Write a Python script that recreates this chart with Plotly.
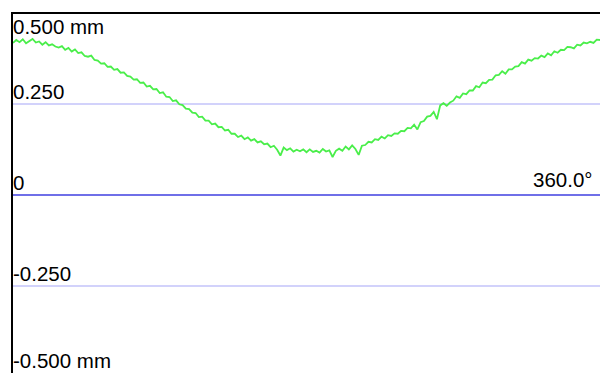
import plotly.graph_objects as go

# Sample angles (degrees), every 2 degrees from 0 to 360
angles = list(range(0, 361, 2))

deviation = [
    0.418, 0.426, 0.420, 0.428, 0.417, 0.424,
    0.429, 0.419, 0.422, 0.413, 0.420, 0.411, 0.414, 0.408, 0.405,
    0.409, 0.399, 0.404, 0.394, 0.400, 0.390, 0.392, 0.382, 0.380, 0.383,
    0.371, 0.369, 0.361, 0.362, 0.352, 0.353, 0.344, 0.346, 0.336, 0.337,
    0.327, 0.325, 0.317, 0.318, 0.308, 0.309, 0.298, 0.300, 0.290, 0.291,
    0.280, 0.282, 0.270, 0.269, 0.258, 0.260, 0.249, 0.247, 0.237, 0.236,
    0.226, 0.225, 0.214, 0.215, 0.204, 0.204, 0.194, 0.196, 0.186, 0.187,
    0.177, 0.179, 0.168, 0.168, 0.159, 0.163, 0.153, 0.158, 0.149, 0.153,
    0.144, 0.147, 0.139, 0.141, 0.131, 0.135, 0.124, 0.108, 0.130, 0.123,
    0.128, 0.119, 0.124, 0.120, 0.125, 0.117, 0.125, 0.118, 0.121, 0.116,
    0.126, 0.119, 0.122, 0.104, 0.121, 0.127, 0.121, 0.133, 0.125, 0.136,
    0.126, 0.110, 0.135, 0.137, 0.146, 0.144, 0.153, 0.151, 0.160, 0.155,
    0.164, 0.162, 0.169, 0.168, 0.176, 0.175, 0.184, 0.183, 0.193, 0.180,
    0.200, 0.203, 0.215, 0.217, 0.228, 0.208, 0.246, 0.252, 0.245, 0.254,
    0.259, 0.271, 0.267, 0.279, 0.277, 0.287, 0.287, 0.299, 0.296, 0.309,
    0.307, 0.316, 0.317, 0.329, 0.330, 0.340, 0.333, 0.345, 0.345, 0.353,
    0.354, 0.365, 0.361, 0.372, 0.369, 0.376, 0.375, 0.383, 0.379, 0.389,
    0.384, 0.395, 0.391, 0.399, 0.398, 0.407, 0.406, 0.403, 0.413, 0.411,
    0.419, 0.417, 0.421, 0.418, 0.427, 0.426,
]

# Label texts along the left edge
label_texts = ["0.500 mm", "0.250", "0", "-0.250"]
bottom_label = "-0.500 mm"
end_angle_label = "360.0°"

fig = go.Figure()
fig.add_trace(go.Scatter(
    x=angles, y=deviation, mode="lines",
    line=dict(color="#4aee4a", width=1.8),
    hoverinfo="skip", showlegend=False,
))

font = dict(family="Liberation Sans, Arial, sans-serif", size=20.5, color="#000000")

# anchor value of each label's box bottom (top label sits just below the border)
label_anchor_y = [0.4287, 0.25, 0.0, -0.25]
for v, t in zip(label_anchor_y, label_texts):
    fig.add_annotation(x=0, y=v, xref="x", yref="y", text=t, showarrow=False,
                       xanchor="left", yanchor="bottom", xshift=-1, yshift=0,
                       font=font, borderpad=0)

# bottom label sits at the bottom edge of the plot
fig.add_annotation(x=0, y=0, xref="x", yref="paper", text=bottom_label,
                   showarrow=False, xanchor="left", yanchor="bottom",
                   xshift=-1, yshift=0, font=font, borderpad=0)

fig.add_annotation(x=360, y=0, xref="x", yref="y", text=end_angle_label,
                   showarrow=False, xanchor="right", yanchor="bottom",
                   xshift=-6, yshift=3, font=font, borderpad=0)

fig.update_layout(
    width=600, height=373,
    margin=dict(l=13, r=0, t=14, b=0),
    paper_bgcolor="white", plot_bgcolor="white",
    showlegend=False,
    xaxis=dict(range=[0, 360], side="top", showline=True, linecolor="black",
               linewidth=1.5, showgrid=False, zeroline=False,
               showticklabels=False, ticks=""),
    yaxis=dict(range=[-0.4903, 0.4975], showline=True, linecolor="black",
               linewidth=1.5, tickvals=[-0.25, 0.25], showticklabels=False,
               ticks="", showgrid=True, gridcolor="#d2d2fb", gridwidth=2,
               zeroline=True, zerolinecolor="#6f6fe8", zerolinewidth=1.5),
)

fig.write_html("out.html", config={"displayModeBar": False},
               post_script="document.body.style.margin='0';document.body.style.overflow='hidden';")
